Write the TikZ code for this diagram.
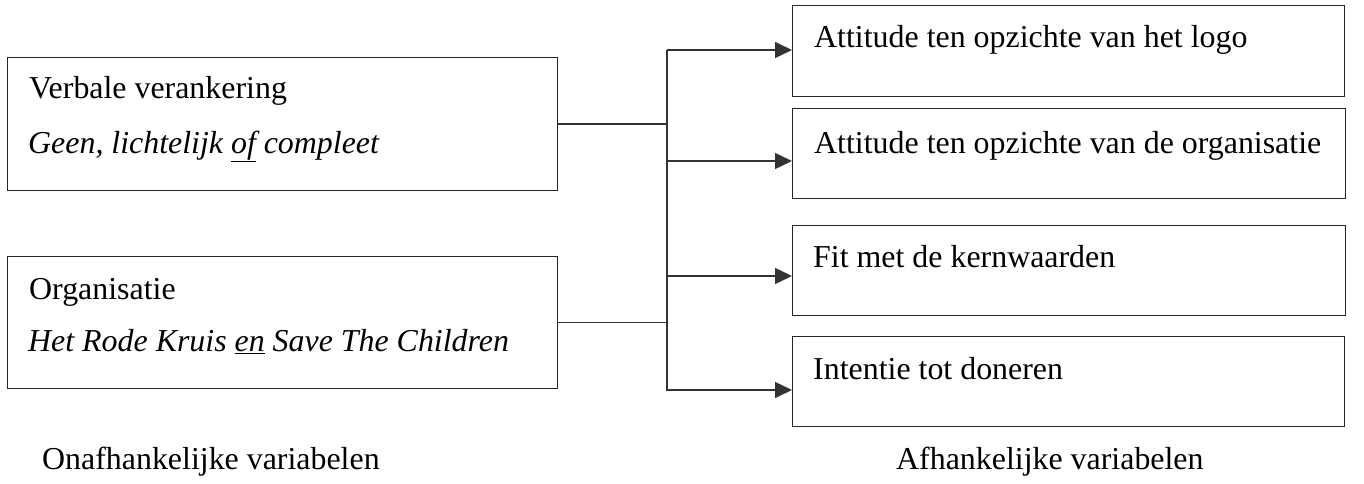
\documentclass[tikz,border=0pt]{standalone}
\usepackage{fontspec}
\setmainfont{Liberation Serif}
\usetikzlibrary{arrows.meta}
\begin{document}
\begin{tikzpicture}[x=1pt,y=-1pt,
  box/.style={draw=black!85,line width=1.3pt,rectangle,inner sep=0pt,anchor=north west},
  txt/.style={anchor=base west,inner sep=0pt,font=\fontsize{31.9}{38}\selectfont},
  conn/.style={draw=black!80,line width=1.4pt},
  arr/.style={conn,-{Triangle[length=17pt,width=16pt]}}]
\useasboundingbox (0,0) rectangle (1364,484);
% independent variable boxes
\node[box,minimum width=550pt,minimum height=133pt] (iv1) at (7,57) {};
\node[box,minimum width=550pt,minimum height=132pt] (iv2) at (7,256) {};
% dependent variable boxes
\node[box,minimum width=552pt,minimum height=91pt] (dvA) at (792,5) {};
\node[box,minimum width=553pt,minimum height=90pt] (dvB) at (792,108) {};
\node[box,minimum width=553pt,minimum height=90pt] (dvC) at (792,225) {};
\node[box,minimum width=552pt,minimum height=90pt] (dvD) at (792,336) {};
% texts
\node[txt] (t1a) at (29,99) {Verbale verankering};
\node[txt] (t1b) at (28,153) {\itshape Geen, lichtelijk \underline{of} compleet};
\node[txt] (t2a) at (29,299) {Organisatie};
\node[txt] (t2b) at (28,351) {\itshape Het Rode Kruis \underline{en} Save The Children};
\node[txt] (tA) at (814,48) {Attitude ten opzichte van het logo};
\node[txt] (tB) at (814,153) {Attitude ten opzichte van de organisatie};
\node[txt] (tC) at (813,267) {Fit met de kernwaarden};
\node[txt] (tD) at (813,379) {Intentie tot doneren};
\node[txt] (lblI) at (42,469) {Onafhankelijke variabelen};
\node[txt] (lblD) at (896,469) {Afhankelijke variabelen};
% connectors
\coordinate (st) at (667,50);
\coordinate (sb) at (667,391);
\coordinate (yA) at (0,50);
\coordinate (yB) at (0,161);
\coordinate (yC) at (0,276);
\coordinate (yD) at (0,390);
\draw[conn] (st) -- (sb);
\draw[conn] (iv1.east) -- (iv1.east -| st);
\draw[conn] (iv2.east) -- (iv2.east -| st);
\draw[arr] (st |- yA) -- (dvA.west |- yA);
\draw[arr] (st |- yB) -- (dvB.west |- yB);
\draw[arr] (st |- yC) -- (dvC.west |- yC);
\draw[arr] (st |- yD) -- (dvD.west |- yD);
\end{tikzpicture}
\end{document}
